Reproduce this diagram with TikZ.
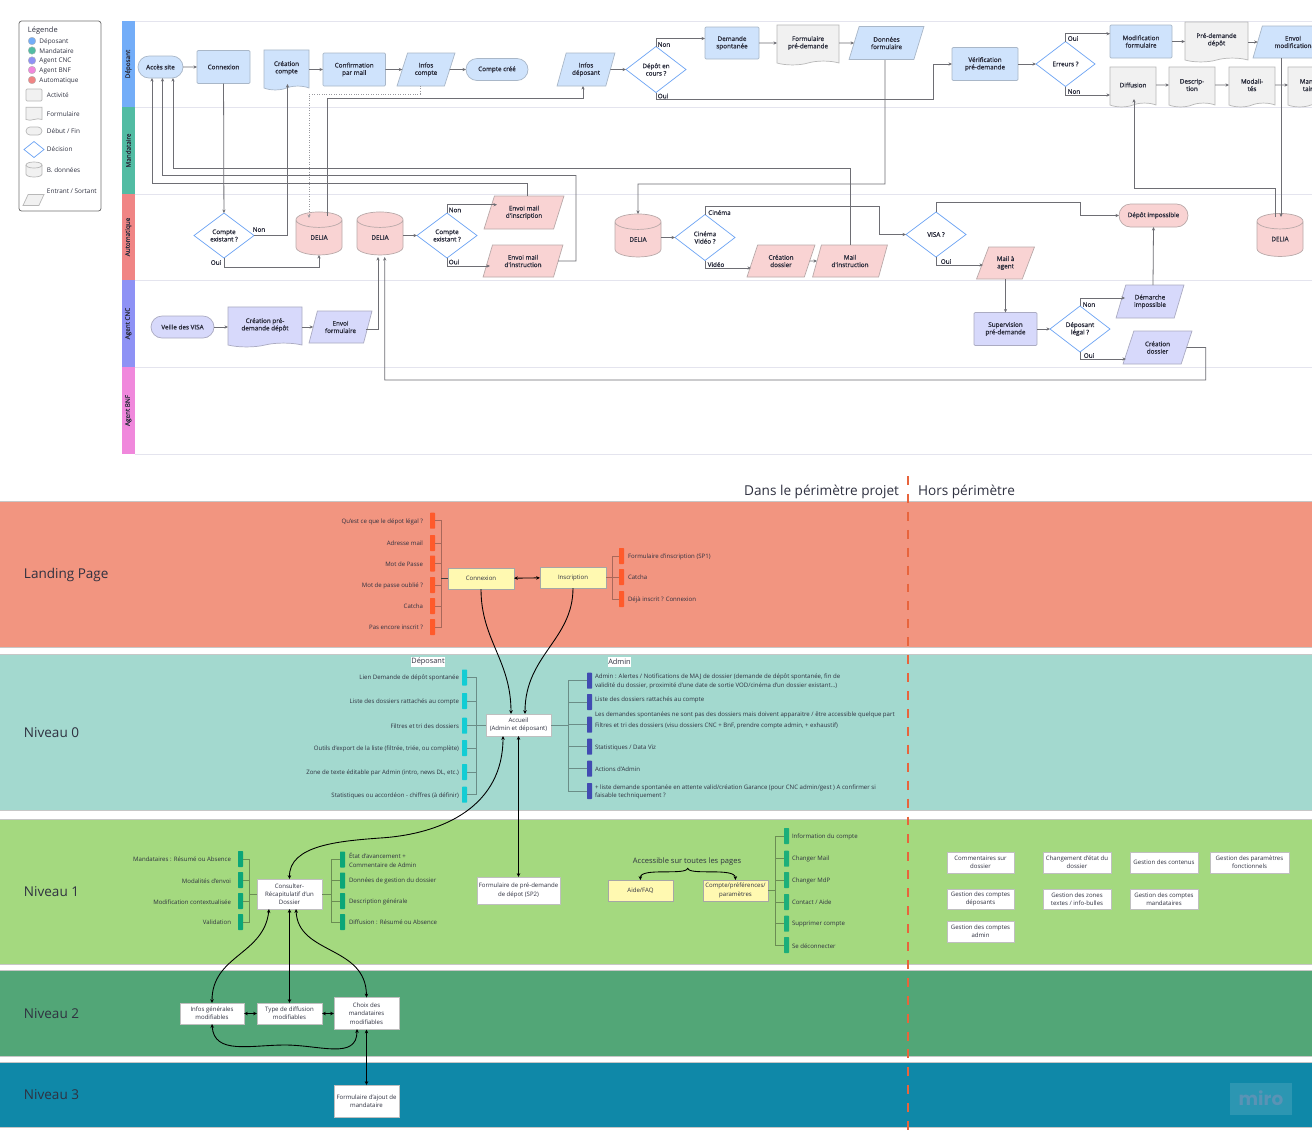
\documentclass[tikz,border=0pt]{standalone}
\usepackage{fontspec}
\setmainfont{Open Sans}
\newfontfamily\miroface{Poppins}
\newfontfamily\flowface[FakeBold=1.2]{Open Sans}
\usetikzlibrary{arrows.meta}
\usetikzlibrary{shapes.geometric}
\usetikzlibrary{shapes.symbols}
\usetikzlibrary{shapes.misc}
\definecolor{txtdark}{HTML}{2F3140}
\definecolor{lineflow}{HTML}{6E6E74}
\definecolor{lanegrey}{HTML}{E4E4EE}
\definecolor{lanedepo}{HTML}{73ADF8}
\definecolor{lanemand}{HTML}{52BCA3}
\definecolor{laneauto}{HTML}{F08585}
\definecolor{lanecnc}{HTML}{8E92F5}
\definecolor{lanebnf}{HTML}{F088DC}
\definecolor{fillblue}{HTML}{CFE3FC}
\definecolor{edgeblue}{HTML}{A9B7C8}
\definecolor{fillpink}{HTML}{F9D3D3}
\definecolor{edgepink}{HTML}{B9A9A9}
\definecolor{filllav}{HTML}{D7D9FB}
\definecolor{edgelav}{HTML}{ABABC2}
\definecolor{fillgrey}{HTML}{F1F1F1}
\definecolor{edgegrey}{HTML}{B8B8B8}
\definecolor{edgedeci}{HTML}{6DA4F4}
\definecolor{bandland}{HTML}{F29580}
\definecolor{bandzero}{HTML}{A3D9CF}
\definecolor{bandone}{HTML}{A4D97F}
\definecolor{bandtwo}{HTML}{52A677}
\definecolor{bandthree}{HTML}{0F88A8}
\definecolor{stickred}{HTML}{FF5A2B}
\definecolor{stickcyan}{HTML}{12CDD4}
\definecolor{stickblue}{HTML}{414BB2}
\definecolor{stickgreen}{HTML}{0CA678}
\definecolor{stickmint}{HTML}{1DAF7A}
\definecolor{yellowbox}{HTML}{FFF9B1}
\definecolor{redcut}{HTML}{E8643C}
\definecolor{mirotext}{HTML}{5A93B5}
\newcommand{\flowfont}{\flowface\fontsize{3.6}{4.2}\selectfont}
\newcommand{\pagefont}{\fontsize{3.45}{4.7}\selectfont}
\newcommand{\titlefont}{\fontsize{7.7}{9}\selectfont}
\tikzset{
  wh/.style 2 args={minimum width=#1*0.02cm,minimum height=#2*0.02cm},
  base/.style={inner sep=0pt,outer sep=0pt,align=center,text=txtdark,font=\flowfont},
  activity/.style={base,rectangle,draw,line width=0.4pt,rounded corners=0.6pt},
  terminal/.style={base,rounded rectangle,draw,line width=0.4pt},
  form/.style={base,tape,tape bend top=none,tape bend bottom=in and out,tape bend height=2.2pt,draw,line width=0.4pt},
  decision/.style={base,diamond,aspect=1.3,draw=edgedeci,line width=0.4pt,fill=white},
  store/.style={base,cylinder,shape border rotate=90,aspect=0.9,draw,line width=0.4pt,fill=fillpink,draw=edgepink},
  inout/.style={base,trapezium,trapezium left angle=65,trapezium right angle=115,trapezium stretches=true,draw,line width=0.4pt},
  depocol/.style={fill=fillblue,draw=edgeblue},
  autocol/.style={fill=fillpink,draw=edgepink},
  cnccol/.style={fill=filllav,draw=edgelav},
  greycol/.style={fill=fillgrey,draw=edgegrey},
  flow/.style={draw=lineflow,line width=0.45pt,-{Stealth[length=2pt,width=1.8pt]}},
  dotflow/.style={flow,draw=lineflow!70,line width=0.4pt,densely dotted},
  tag/.style={base,anchor=center,yshift=-0.3pt},
  legendtxt/.style={base,anchor=west,font=\fontsize{3.65}{4}\selectfont,yshift=-0.3pt},
  laneline/.style={draw=lanegrey,line width=0.5pt},
  band/.style={draw=black!22,line width=0.3pt},
  bandtitle/.style={base,anchor=west,font=\titlefont,yshift=-0.5pt},
  page/.style={base,rectangle,font=\pagefont,draw=black!25,line width=0.35pt},
  whitepage/.style={page,fill=white},
  yellowpage/.style={page,fill=yellowbox,draw=black!35},
  stick/.style={base,rectangle,wh={5}{16},rounded corners=0.4pt},
  leftlab/.style={base,anchor=east,font=\pagefont,yshift=-0.4pt},
  rightlab/.style={base,anchor=west,align=left,font=\pagefont,yshift=-0.4pt},
  link/.style={draw=black,line width=0.5pt,{Stealth[length=2.2pt,width=2pt]}-{Stealth[length=2.2pt,width=2pt]}},
  linkone/.style={draw=black,line width=0.5pt,-{Stealth[length=2.2pt,width=2pt]}},
}

\begin{document}
\begin{tikzpicture}[x=0.02cm,y=-0.02cm]
  \useasboundingbox (0,0) rectangle (1312,1137);
  \clip (0,0) rectangle (1312,1137);
  \fill[white] (0,0) rectangle (1312,1137);

  % legend
  \draw[black!55,line width=0.45pt,fill=white,rounded corners=1.5pt] (19,21) rectangle (101,211);
  \node[legendtxt,font=\fontsize{4.25}{5}\selectfont] (legtitle) at (28,30) {Légende};
  \foreach \i/\ypos/\col/\lab in {1/41/lanedepo/Déposant,2/50.5/lanemand/Mandataire,3/60.5/lanecnc/Agent CNC,4/70/lanebnf/Agent BNF,5/80/laneauto/Automatique} {
    \fill[\col,draw=black!30,line width=0.2pt] (32,\ypos) circle (3.8);
    \node[legendtxt] (leglab\i) at (39.5,\ypos) {\lab};
  }
  \node[activity,greycol,wh={16}{12}] (legact) at (34,95) {};
  \node[form,greycol,tape bend height=0.8pt,wh={16}{13}] (legform) at (34,113) {};
  \node[terminal,greycol,wh={16}{8}] (legterm) at (34,131) {};
  \node[decision,wh={20}{16}] (legdeci) at (34,149.5) {};
  \draw[edgegrey,fill=fillgrey,line width=0.4pt] (26,165) .. controls (26,161) and (42,161) .. (42,165) -- (42,174) .. controls (42,178) and (26,178) .. (26,174) -- cycle;
  \draw[edgegrey,line width=0.4pt] (26,165) .. controls (26,169) and (42,169) .. (42,165);
  \node[inout,greycol,wh={21}{11}] (leginout) at (33.5,200) {\phantom{x}};
  \node[legendtxt] (leglab6) at (47,95) {Activité};
  \node[legendtxt] (leglab7) at (47,114) {Formulaire};
  \node[legendtxt] (leglab8) at (47,130.5) {Début / Fin};
  \node[legendtxt] (leglab9) at (47,149) {Décision};
  \node[legendtxt] (leglab10) at (47,169.5) {B. données};
  \node[legendtxt] (leglab11) at (47,191) {Entrant / Sortant};

  % swimlanes
  \foreach \i/\ytop/\ybot/\col/\lab in {1/21/107/lanedepo/Déposant,2/107/194/lanemand/Mandataire,3/194/280/laneauto/Automatique,4/280/367/lanecnc/Agent CNC,5/367/454/lanebnf/Agent BNF} {
    \fill[\col] (122,\ytop) rectangle (134.5,\ybot);
    \draw[laneline] (134.5,\ytop) -- (1312,\ytop);
    \draw[laneline] (134.5,\ybot) -- (1312,\ybot);
    \node[base,rotate=90] (lane\i) at (128.3,{(\ytop+\ybot)/2}) {\lab};
  }

  % lane depositor
  \node[terminal,depocol,wh={45}{22}] (accessite) at (160.5,67) {Accès site};
  \node[activity,depocol,wh={53}{33}] (connexionflow) at (223.5,67) {Connexion};
  \node[form,depocol,wh={45}{40}] (creacompte) at (286.5,68) {Création\\compte};
  \node[activity,depocol,wh={62.5}{33}] (confirm) at (354.2,69.5) {Confirmation\\par mail};
  \node[inout,depocol,wh={58}{33}] (infoscompte) at (426,69.5) {Infos\\compte};
  \node[terminal,depocol,wh={62}{22}] (comptecree) at (497,69.5) {Compte créé};
  \node[inout,depocol,wh={58}{33}] (infosdepo) at (586,69.5) {Infos\\déposant};
  \node[decision,wh={60}{46}] (enCours) at (656,69.5) {Dépôt en\\cours ?};
  \node[activity,depocol,wh={54}{32}] (spontanee) at (732,43) {Demande\\spontanée};
  \node[form,greycol,wh={62}{40}] (formpre) at (808,43) {Formulaire\\pré-demande};
  \node[inout,depocol,wh={75}{33}] (donnees) at (886.5,43) {Données\\formulaire};
  \node[activity,depocol,wh={66}{33}] (verif) at (985,64) {Vérification\\pré-demande};
  \node[decision,wh={59}{45}] (erreurs) at (1065.5,64) {Erreurs ?};
  \node[activity,depocol,wh={62}{33}] (modifform) at (1141,41.5) {Modification\\formulaire};
  \node[form,greycol,wh={63}{40}] (predepot) at (1216.5,40) {Pré-demande\\dépôt};
  \node[inout,depocol,wh={80}{32}] (envoimodif) at (1293,42) {Envoi\\modification};
  \node[form,greycol,wh={46}{40}] (diffusion) at (1133,85) {Diffusion};
  \node[form,greycol,wh={46}{40}] (descrip) at (1192,85) {Descrip-\\tion};
  \node[form,greycol,wh={46}{40}] (modali) at (1252,85) {Modali-\\tés};
  \node[form,greycol,wh={46}{40}] (manda) at (1311,85) {Manda-\\taires};

  % lane automatic
  \node[decision,wh={60}{45}] (existant) at (224,235.5) {Compte\\existant ?};
  \node[store,wh={46}{43}] (delia) at (319,237.5) {\raisebox{-1.3pt}{DELIA}};
  \node[store,wh={46}{43}] (deliab) at (380,237.5) {\raisebox{-1.3pt}{DELIA}};
  \node[decision,wh={60}{45}] (existantb) at (447,235.5) {Compte\\existant ?};
  \node[inout,autocol,wh={80}{33}] (mailinscr) at (524,212.5) {Envoi mail\\d'inscription};
  \node[inout,autocol,wh={80}{32}] (mailinstr) at (523,261) {Envoi mail\\d'instruction};
  \node[store,wh={46}{43}] (deliac) at (638,239.5) {\raisebox{-1.3pt}{DELIA}};
  \node[decision,wh={60}{46}] (cinema) at (705,237.5) {Cinéma\\Vidéo ?};
  \node[inout,autocol,wh={68}{32}] (creadossier) at (781,261) {Création\\dossier};
  \node[inout,autocol,wh={75}{32}] (mailinstrb) at (850,261) {Mail\\d'instruction};
  \node[decision,wh={60}{45}] (visa) at (936,234.5) {VISA ?};
  \node[inout,autocol,wh={58}{32}] (mailagent) at (1005.5,263) {Mail à\\agent};
  \node[terminal,autocol,wh={69}{23}] (impossible) at (1153.5,215.5) {Dépôt impossible};
  \node[store,wh={46}{43}] (deliad) at (1280,239) {\raisebox{-1.3pt}{DELIA}};

  % lane CNC
  \node[terminal,cnccol,wh={63}{22}] (veille) at (182.5,327) {Veille des VISA};
  \node[form,cnccol,wh={74}{40}] (creapre) at (265,325) {Création pré-\\demande dépôt};
  \node[inout,cnccol,wh={63}{32}] (envoiform) at (340.5,327) {Envoi\\formulaire};
  \node[activity,cnccol,wh={63}{33}] (supervision) at (1005.5,329) {Supervision\\pré-demande};
  \node[decision,wh={60}{46}] (legal) at (1080,329) {Déposant\\légal ?};
  \node[inout,cnccol,wh={68}{33}] (demarche) at (1150,301.5) {Démarche\\impossible};
  \node[inout,cnccol,wh={69}{33}] (creadossb) at (1157.5,347.5) {Création\\dossier};

  % ports where a connector does not meet a node at its middle
  \coordinate (accesa) at (152,78);
  \coordinate (accesb) at (162.5,78);
  \coordinate (accesc) at (173,78);
  \coordinate (infosout) at (420,86);
  \coordinate (deliain) at (309,218);
  \coordinate (deliaout) at (327,216);
  \coordinate (deliabin) at (378,257);
  \coordinate (deliabinb) at (384.7,257);
  \coordinate (depoin) at (583,86);
  \coordinate (cibleexist) at (287.5,84);
  \coordinate (mailinscrtop) at (527,196);
  \coordinate (mailinstrtop) at (850.7,245);
  \coordinate (deliadout) at (1275.7,217);
  \coordinate (deliadin) at (1281,217);
  \coordinate (envoiout) at (1281,58);
  \coordinate (diffin) at (1134,99);
  \coordinate (demarchetop) at (1153,285);
  \coordinate (donneesout) at (885,60);
  \coordinate (envoiformout) at (366,329);

  % connectors, first row
  \draw[flow] (accessite) -- (connexionflow);
  \draw[flow] (connexionflow) -- (existant);
  \draw[flow] (creacompte.east |- confirm.west) -- (confirm.west);
  \draw[flow] (confirm) -- (infoscompte);
  \draw[flow] (infoscompte) -- (comptecree);
  \draw[dotflow] (infosout) -- (420,94) -- (309,94) -- (deliain);
  \draw[flow] (deliaout) -- (327,98.7) -| (depoin);
  \draw[flow] (infosdepo) -- (enCours);
  \draw[flow] (enCours.north) -- (656,38.5) -- (spontanee.west |- 656,38.5);
  \draw[flow] (enCours.south) -- (656,99.7) -- (933,99.7) |- (verif.west);
  \draw[flow] (spontanee) -- (formpre);
  \draw[flow] (formpre) -- (donnees);
  \draw[flow] (verif) -- (erreurs);
  \draw[flow] (erreurs.north) -- (1065.5,33.7) -- (modifform.west |- 1065.5,33.7);
  \draw[flow] (erreurs.south) -- (1065.5,95) -- (diffusion.west |- 1065.5,95);
  \draw[flow] (modifform.east) -- (predepot.west |- modifform.east);
  \draw[flow] (predepot.east |- envoimodif.west) -- (envoimodif.west);
  \draw[flow] (diffusion) -- (descrip);
  \draw[flow] (descrip) -- (modali);
  \draw[flow] (modali) -- (manda);
  \draw[flow] (envoiout) -- (deliadin);
  \draw[flow] (deliadout) -- (1275.7,188) -| (diffin);
  \draw[flow] (donneesout) -- (885,184) -- (638,184) -- (deliac.north);

  % connectors back to the site
  \draw[flow] (mailinscrtop) -- (527,183) -| (accesa);
  \draw[flow] (mailinstr.east) -- (576,261) -- (576,175.5) -| (accesb);
  \draw[flow] (mailinstrtop) -- (850.7,168) -| (accesc);

  % connectors, automatic lane
  \draw[flow] (existant.east) -- (287.5,235.5) -- (cibleexist);
  \draw[flow] (existant.south) -- (224,267) -| (delia.south);
  \draw[flow] (deliab.east |- existantb.west) -- (existantb.west);
  \draw[flow] (existantb.north) -- (447,204.7) -- (497,204.7);
  \draw[flow] (existantb.south) -- (447,266) -- (490,266);
  \draw[flow] (deliac.east |- cinema.west) -- (cinema.west);
  \draw[flow] (cinema.north) -- (705,206) -- (879,206) |- (visa.west);
  \draw[flow] (cinema.south) -- (705,268) -- (751,268);
  \draw[flow] (creadossier) -- (mailinstrb);
  \draw[flow] (visa.north) -- (936,202) -- (1080,202) |- (impossible.west);
  \draw[flow] (visa.south) -- (936,265) -- (983,265);
  \draw[flow] (mailagent.south) -- (supervision.north);

  % connectors, CNC lane
  \draw[flow] (veille.east) -- (creapre.west |- veille.east);
  \draw[flow] (creapre.east |- envoiform.west) -- (envoiform.west);
  \draw[flow] (envoiformout) -- (378,329) -- (deliabin);
  \draw[flow] (supervision) -- (legal);
  \draw[flow] (legal.north) -- (1080,298) -- (1125,298);
  \draw[flow] (legal.south) -- (1080,359) -- (1126,359);
  \draw[flow] (demarchetop) -- (impossible.south);
  \draw[flow] (creadossb.east) -- (1205.7,347.5) -- (1205.7,380) -- (384.7,380) -- (deliabinb);

  % yes and no
  \node[tag] (tagnona) at (259,229) {Non};
  \node[tag] (tagouia) at (216,262) {Oui};
  \node[tag] (tagnonb) at (455,209.5) {Non};
  \node[tag] (tagouib) at (454,261.5) {Oui};
  \node[tag] (tagnonc) at (664,44) {Non};
  \node[tag] (tagouic) at (663,95.5) {Oui};
  \node[tag] (tagouid) at (1073,38) {Oui};
  \node[tag] (tagnond) at (1074,91) {Non};
  \node[tag] (tagcine) at (719.5,212) {Cinéma};
  \node[tag] (tagvideo) at (716,264) {Vidéo};
  \node[tag] (tagouie) at (946,261) {Oui};
  \node[tag] (tagnonf) at (1089,304) {Non};
  \node[tag] (tagouif) at (1089,355) {Oui};

  % bands
  \draw[band,fill=bandland] (-2,501) rectangle (1314,647);
  \draw[band,fill=bandzero] (-2,654) rectangle (1314,810);
  \draw[band,fill=bandone] (-2,819) rectangle (1314,964);
  \draw[band,fill=bandtwo] (-2,970) rectangle (1314,1056);
  \draw[band,fill=bandthree] (-2,1062) rectangle (1314,1127);
  \draw[redcut,line width=1.4pt,dash pattern=on 5.1pt off 5.1pt] (908,476) -- (908,1137);

  \node[bandtitle] (titleland) at (24,574) {Landing Page};
  \node[bandtitle] (titlezero) at (24,732) {Niveau 0};
  \node[bandtitle] (titleone) at (24,891) {Niveau 1};
  \node[bandtitle] (titletwo) at (24,1013) {Niveau 2};
  \node[bandtitle] (titlethree) at (24,1094) {Niveau 3};
  \node[base,anchor=east,font=\fontsize{7.75}{9}\selectfont] (inscope) at (899,492) {Dans le périmètre projet};
  \node[base,anchor=west,font=\fontsize{7.75}{9}\selectfont] (outscope) at (918,492) {Hors périmètre};
  \fill[white] (411,657) rectangle (445,667);
  \node[base,font=\fontsize{4.2}{5}\selectfont] (headdepo) at (428,662) {Déposant};
  \fill[white] (608,657) rectangle (631,667);
  \node[base,font=\fontsize{4.2}{5}\selectfont] (headadmin) at (619.5,662) {Admin};
  \fill[bandthree!88!white] (1230,1083) rectangle (1292,1115);
  \node[base,font=\miroface\bfseries\fontsize{10.5}{12}\selectfont,text=mirotext] (miro) at (1261,1098) {miro};

  % pages
  \node[yellowpage,wh={66}{21}] (connexion) at (481,578.5) {Connexion};
  \node[yellowpage,wh={66}{21}] (inscription) at (573,577.5) {Inscription};
  \node[whitepage,wh={65}{22}] (accueil) at (518.5,725) {Accueil\\(Admin et déposant)};
  \node[whitepage,wh={65}{30}] (recap) at (289.5,894) {Consulter-\\Récapitulatif d'un\\Dossier};
  \node[whitepage,wh={83}{27}] (preform) at (518.5,890.5) {Formulaire de pré-demande\\de dépot (SP2)};
  \node[yellowpage,wh={65}{21}] (aide) at (640.5,890.5) {Aide/FAQ};
  \node[yellowpage,wh={65}{21}] (comptepref) at (735.5,890.5) {Compte/préférences/\\paramètres};
  \node[whitepage,wh={64}{21}] (infosgen) at (212,1013.5) {Infos générales\\modifiables};
  \node[whitepage,wh={65}{21}] (typediff) at (289.5,1013.5) {Type de diffusion\\modifiables};
  \node[whitepage,wh={65}{32}] (choix) at (366.5,1013.5) {Choix des\\mandataires\\modifiables};
  \node[whitepage,wh={65}{32}] (ajout) at (366.5,1101) {Formulaire d'ajout de\\mandataire};

  % pages out of the project
  \node[whitepage,wh={67}{21}] (outa) at (980.5,862.5) {Commentaires sur\\dossier};
  \node[whitepage,wh={68}{21}] (outb) at (1077,862.5) {Changement d'état du\\dossier};
  \node[whitepage,wh={68}{21}] (outc) at (1164,862.5) {Gestion des contenus};
  \node[whitepage,wh={79}{21}] (outd) at (1249.5,862.5) {Gestion des paramètres\\fonctionnels};
  \node[whitepage,wh={67}{20}] (oute) at (980.5,899) {Gestion des comptes\\déposants};
  \node[whitepage,wh={68}{20}] (outf) at (1077,899) {Gestion des zones\\textes / info-bulles};
  \node[whitepage,wh={68}{20}] (outg) at (1164,899) {Gestion des comptes\\mandataires};
  \node[whitepage,wh={67}{21}] (outh) at (980.5,931.5) {Gestion des comptes\\admin};

  % items of each page
  \foreach \i/\ypos/\lab in {1/520.7/{Qu'est ce que le dépot légal ?},2/543/{Adresse mail},3/563.5/{Mot de Passe},4/585/{Mot de passe oublié ?},5/606/{Catcha},6/627/{Pas encore inscrit ?}} {
    \node[stick,fill=stickred] (lpstick\i) at (432.5,\ypos) {};
    \node[leftlab] (lplab\i) at (423,\ypos) {\lab};
    \draw[draw=bandland!70!black,line width=0.35pt] (lpstick\i.east) -- (441.5,\ypos) |- (connexion.west);
  }
  \draw[black!75,line width=0.4pt] (connexion.west) -- ++(-7,0);
  \foreach \i/\ypos/\lab in {1/556/{Formulaire d'inscription (SP1)},2/577/{Catcha},3/599/{Déjà inscrit ? Connexion}} {
    \node[stick,fill=stickred] (rpstick\i) at (621.5,\ypos) {};
    \node[rightlab] (rplab\i) at (628,\ypos) {\lab};
    \draw[draw=bandland!70!black,line width=0.35pt] (rpstick\i.west) -- (612,\ypos) |- (inscription.east);
  }
  \foreach \i/\ypos/\lab in {1/677.5/{Lien Demande de dépôt spontanée},2/701/{Liste des dossiers rattachés au compte},3/725.7/{Filtres et tri des dossiers},4/748/{Outils d'export de la liste (filtrée, triée, ou complète)},5/772/{Zone de texte éditable par Admin (intro, news DL, etc.)},6/794.7/{Statistiques ou accordéon - chiffres (à définir)}} {
    \node[stick,fill=stickcyan] (dpstick\i) at (464.5,\ypos) {};
    \node[leftlab] (dplab\i) at (459,\ypos) {\lab};
    \draw[draw=bandzero!65!black,line width=0.35pt] (dpstick\i.east) -- (476.7,\ypos) |- (accueil.west);
  }
  \foreach \i/\ypos in {1/680.7,2/702,3/724.7,4/746.7,5/768.7,6/791} {
    \node[stick,fill=stickblue] (adstick\i) at (589.5,\ypos) {};
    \draw[draw=bandzero!65!black,line width=0.35pt] (adstick\i.west) -- (568.7,\ypos) |- (accueil.east);
  }
  \node[rightlab] (adlab1) at (595,680.7) {Admin : Alertes / Notifications de MAJ de dossier (demande de dépôt spontanée, fin de\\validité du dossier, proximité d'une date de sortie VOD/cinéma d'un dossier existant...)};
  \node[rightlab] (adlab2) at (595,699) {Liste des dossiers rattachés au compte};
  \node[rightlab] (adlab7) at (595,714) {Les demandes spontanées ne sont pas des dossiers mais doivent apparaitre / être accessible quelque part};
  \node[rightlab] (adlab3) at (595,725) {Filtres et tri des dossiers (visu dossiers CNC + BnF, prendre compte admin, + exhaustif)};
  \node[rightlab] (adlab4) at (595,747) {Statistiques / Data Viz};
  \node[rightlab] (adlab5) at (595,769) {Actions d'Admin};
  \node[rightlab] (adlab6) at (595,791) {+ liste demande spontanée en attente valid/création Garance (pour CNC admin/gest ) A confirmer si\\faisable techniquement ?};
  \foreach \i/\ypos/\lab in {1/859/{Mandataires : Résumé ou Absence},2/880/{Modalités d'envoi},3/901/{Modification contextualisée},4/922/{Validation}} {
    \node[stick,fill=stickgreen] (ltstick\i) at (240.5,\ypos) {};
    \node[leftlab] (ltlab\i) at (231,\ypos) {\lab};
    \draw[draw=bandone!65!black,line width=0.35pt] (ltstick\i.east) -- (249.7,\ypos) |- (recap.west);
  }
  \foreach \i/\ypos/\lab in {1/859.5/{État d'avancement +\\Commentaire de Admin},2/880.5/{Données de gestion du dossier},3/901/{Description générale},4/922/{Diffusion : Résumé ou Absence}} {
    \node[stick,fill=stickgreen] (rtstick\i) at (342.5,\ypos) {};
    \node[rightlab] (rtlab\i) at (349,\ypos) {\lab};
    \draw[draw=bandone!65!black,line width=0.35pt] (rtstick\i.west) -- (331,\ypos) |- (recap.east);
  }
  \foreach \i/\ypos/\lab in {1/836/{Information du compte},2/858.7/{Changer Mail},3/880/{Changer MdP},4/902/{Contact / Aide},5/923.7/{Supprimer compte},6/945/{Se déconnecter}} {
    \node[stick,fill=stickmint] (acstick\i) at (786.5,\ypos) {};
    \node[rightlab] (aclab\i) at (792,\ypos) {\lab};
    \draw[draw=bandone!65!black,line width=0.35pt] (acstick\i.west) -- (775.7,\ypos) |- (comptepref.east);
  }

  % ports of the links
  \coordinate (accueilina) at (511,714);
  \coordinate (accueilinb) at (525,714);
  \coordinate (accueilinc) at (503,736);
  \coordinate (recapa) at (269,909);
  \coordinate (recapc) at (296,909);
  \coordinate (choixlow) at (357,1029);
  \coordinate (bracetip) at (687.7,868);

  % links between pages
  \draw[link] (connexion) -- (inscription);
  \draw[linkone] (connexion.south) .. controls (481,640) and (511,660) .. (accueilina);
  \draw[linkone] (inscription.south) .. controls (573,640) and (525,655) .. (accueilinb);
  \draw[link] (recap.north) .. controls (289,845) and (340,841) .. (380,838) .. controls (445,834) and (503,805) .. (accueilinc);
  \draw[link] (accueil.south) -- (preform.north);
  \draw[link] (recapa) .. controls (264,955) and (212,955) .. (infosgen.north);
  \draw[link] (recap.south) -- (typediff.north);
  \draw[link] (recapc) .. controls (298,955) and (366,945) .. (choix.north);
  \draw[link] (infosgen) -- (typediff);
  \draw[link] (typediff) -- (choix);
  \draw[link] (infosgen.south) .. controls (214,1055) and (250,1045) .. (285,1045) .. controls (320,1045) and (357,1060) .. (choixlow);
  \draw[link] (choix.south) -- (ajout.north);
  \node[base,font=\fontsize{4.3}{5}\selectfont] (accessible) at (687,862) {Accessible sur toutes les pages};
  \draw[linkone] (bracetip) .. controls (687,876) and (640,867) .. (aide.north);
  \draw[linkone] (bracetip) .. controls (688,876) and (735,867) .. (comptepref.north);
\end{tikzpicture}
\end{document}
